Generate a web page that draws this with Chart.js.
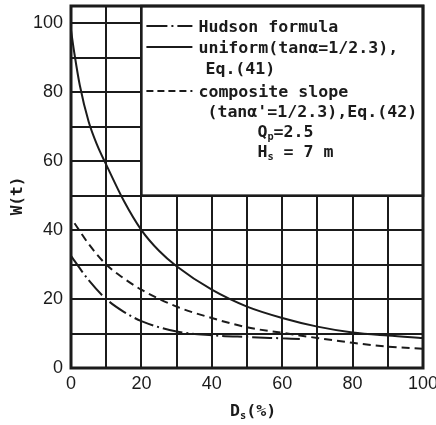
<!DOCTYPE html>
<html>
<head>
<meta charset="utf-8">
<script src="https://cdn.jsdelivr.net/npm/chart.js@4"></script>
<style>
  html, body { margin: 0; padding: 0; background: #fff; }
  #wrap { width: 436px; height: 425px; position: relative; }
</style>
</head>
<body>
<div id="wrap"><canvas id="chart"></canvas></div>
<script>
// values (Ds in %, W in t)
const hudsonDs = [0, 5, 10, 15, 20, 30, 40, 50, 60, 65];
const hudsonW = [32.5, 25.5, 20, 16.3, 13.6, 10.6, 9.5, 9.0, 8.6, 8.4];

const uniformDs = [0, 1, 2.5, 5, 7.5, 10, 15, 20, 25, 30, 40, 50, 60, 70, 80, 90, 100];
const uniformW = [98, 91, 82, 71.5, 64.5, 59, 48.5, 40, 34, 29.5, 22.7, 17.8, 14.5, 12, 10.3, 9.4, 8.7];

const compositeDs = [1, 5, 10, 15, 20, 30, 40, 50, 60, 70, 80, 90, 100];
const compositeW = [42, 36, 30, 26, 22.7, 17.8, 14.5, 11.8, 10.2, 8.7, 7.3, 6.2, 5.6];

const xTickLabels = [0, 20, 40, 60, 80, 100];
const yTickLabels = [0, 20, 40, 60, 80, 100];

const legendRows = [
  { text: 'Hudson formula', dash: [21, 4, 2, 4] },
  { text: 'uniform(tanα=1/2.3),', dash: [] },
  { text: 'Eq.(41)', dash: null },
  { text: 'composite slope', dash: [7, 4] },
  { text: "(tanα'=1/2.3),Eq.(42)", dash: null }
];

const INK = '#1b1b1b';
const MONO = '"DejaVu Sans Mono", "Liberation Mono", monospace';

const pts = (xs, ys) => xs.map((x, i) => ({ x: x, y: ys[i] }));

// text with optional subscripts: runs = [[text, isSub], ...]
function drawRuns(ctx, x, y, runs, size) {
  runs.forEach(([t, sub]) => {
    ctx.font = 'bold ' + (sub ? size * 0.62 : size) + 'px ' + MONO;
    ctx.fillText(t, x, sub ? y + 3 : y);
    x += ctx.measureText(t).width;
  });
}

const boxPlugin = {
  id: 'legendBox',
  afterDatasetsDraw(chart) {
    const { ctx, chartArea, scales } = chart;
    const left = scales.x.getPixelForValue(20);
    const bottom = scales.y.getPixelForValue(50);
    ctx.save();
    ctx.fillStyle = '#fff';
    ctx.fillRect(left, chartArea.top, chartArea.right - left, bottom - chartArea.top);
    ctx.strokeStyle = INK;
    ctx.lineWidth = 2.5;
    ctx.strokeRect(left, chartArea.top, chartArea.right - left, bottom - chartArea.top);

    // legend rows
    const baselines = [32, 53, 74, 97, 117];
    const indents = [57, 57, 64, 57, 66];
    ctx.fillStyle = INK;
    ctx.textBaseline = 'alphabetic';
    legendRows.forEach((r, i) => {
      if (r.dash) {
        ctx.beginPath();
        ctx.setLineDash(r.dash);
        ctx.lineWidth = 2;
        ctx.moveTo(left + 5, baselines[i] - 6);
        ctx.lineTo(left + 51, baselines[i] - 6);
        ctx.stroke();
        ctx.setLineDash([]);
      }
      ctx.font = 'bold 16.6px ' + MONO;
      ctx.fillText(r.text, left + indents[i], baselines[i]);
    });
    drawRuns(ctx, left + 116, 137, [['Q', false], ['p', true], ['=2.5', false]], 16.6);
    drawRuns(ctx, left + 116, 157, [['H', false], ['s', true], [' = 7 m', false]], 16.6);

    // outer frame
    ctx.lineWidth = 3;
    ctx.strokeRect(chartArea.left, chartArea.top, chartArea.right - chartArea.left, chartArea.bottom - chartArea.top);

    // axis titles
    drawRuns(ctx, 230, 416, [['D', false], ['s', true], ['(%)', false]], 16.6);
    ctx.translate(22, 196);
    ctx.rotate(-Math.PI / 2);
    ctx.textAlign = 'center';
    ctx.font = 'bold 16px ' + MONO;
    ctx.fillText('W(t)', 0, 0);
    ctx.restore();
  }
};

new Chart(document.getElementById('chart'), {
  type: 'line',
  data: {
    datasets: [
      { label: 'Hudson formula', data: pts(hudsonDs, hudsonW), borderDash: [20, 4, 2, 4] },
      { label: 'uniform', data: pts(uniformDs, uniformW), borderDash: [] },
      { label: 'composite slope', data: pts(compositeDs, compositeW), borderDash: [8, 5] }
    ].map(s => ({
      ...s,
      borderColor: INK,
      borderWidth: 2,
      pointRadius: 0,
      fill: false,
      cubicInterpolationMode: 'monotone'
    }))
  },
  options: {
    responsive: true,
    maintainAspectRatio: false,
    animation: false,
    layout: { padding: { left: 0, right: 13, top: 6, bottom: 0 } },
    plugins: { legend: { display: false }, tooltip: { enabled: false } },
    scales: {
      x: {
        type: 'linear',
        min: 0,
        max: 100,
        afterFit: s => { s.height = 57; s.paddingLeft = 0; s.paddingRight = 0; },
        ticks: {
          stepSize: 10,
          maxRotation: 0,
          autoSkip: false,
          padding: 5,
          color: INK,
          font: { family: 'Liberation Sans', size: 18 },
          callback: v => xTickLabels.includes(v) ? String(v) : ''
        },
        grid: { color: INK, lineWidth: 2, drawTicks: false },
        border: { display: false }
      },
      y: {
        min: 0,
        max: 105,
        afterFit: s => { s.width = 71; s.paddingTop = 0; s.paddingBottom = 0; },
        ticks: {
          stepSize: 10,
          includeBounds: false,
          autoSkip: false,
          padding: 8,
          color: INK,
          font: { family: 'Liberation Sans', size: 18 },
          callback: v => yTickLabels.includes(v) ? String(v) : ''
        },
        grid: { color: INK, lineWidth: 2, drawTicks: false },
        border: { display: false }
      }
    }
  },
  plugins: [boxPlugin]
});
</script>
</body>
</html>
